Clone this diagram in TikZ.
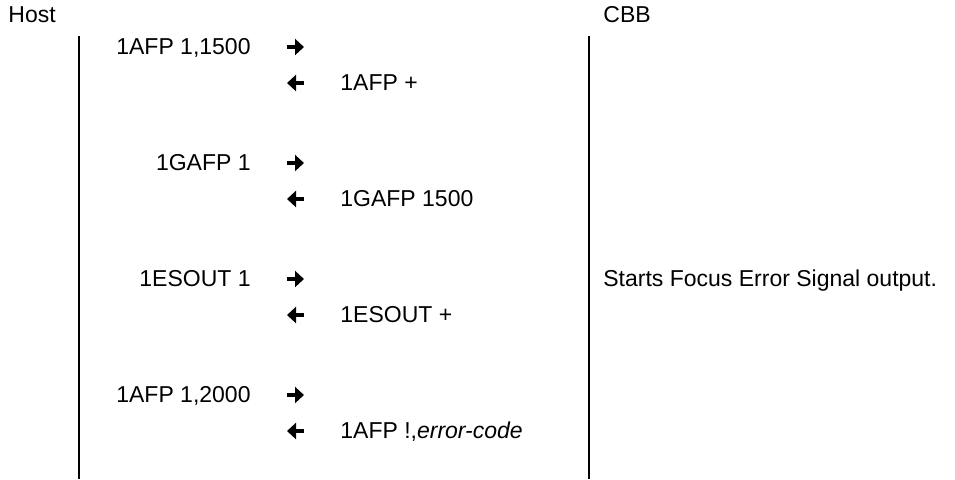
\documentclass[tikz,border=0pt]{standalone}
\usepackage{fontspec}
\setmainfont{Liberation Sans}
\usetikzlibrary{arrows.meta}
\tikzset{
  txt/.style={inner sep=0pt, font=\fontsize{11.5}{14}\selectfont},
  party/.style={txt, anchor=base west},
  cmd/.style={txt, anchor=base east},
  reply/.style={txt, anchor=base west},
  lifeline/.style={line width=1pt},
  % bold short arrows between the two columns
  send/.style={-{Triangle[length=4.5pt,width=8pt]}, line width=2.2pt},
  back/.style={{Triangle[length=4.5pt,width=8pt]}-, line width=2.2pt},
}

\begin{document}
\begin{tikzpicture}[x=0.5pt,y=-0.5pt]
\useasboundingbox (0,0) rectangle (955,479);

% ---------------------------------------------------------------- parties
\node[party] (host) at (8,22) {Host};
\node[party] (cbb) at (603,22) {CBB};
\coordinate (hosttop) at (79,36);
\coordinate (hostend) at (79,479);
\coordinate (cbbtop) at (589,36);
\coordinate (cbbend) at (589,479);
\draw[lifeline] (hosttop) -- (hostend);
\draw[lifeline] (cbbtop) -- (cbbend);

% ---------------------------------------------------------------- set 1500
\node[cmd] (afpset) at (251,54) {1AFP 1,1500};
\draw[send] (287,47) -- (304,47);
\draw[back] (287,83) -- (304,83);
\node[reply] (afpack) at (340,90) {1AFP +};

% ---------------------------------------------------------------- read back
\node[cmd] (gafp) at (251,170) {1GAFP 1};
\draw[send] (287,163) -- (304,163);
\draw[back] (287,199) -- (304,199);
\node[reply] (gafpval) at (340,206) {1GAFP 1500};

% ---------------------------------------------------------------- FES output
\node[cmd] (esout) at (251,286) {1ESOUT 1};
\draw[send] (287,279) -- (304,279);
\draw[back] (287,315) -- (304,315);
\node[reply] (esoutack) at (340,322) {1ESOUT +};
\node[reply] (esnote) at (603,286) {Starts Focus Error Signal output.};

% ---------------------------------------------------------------- rejected
\node[cmd] (afpbad) at (251,402) {1AFP 1,2000};
\draw[send] (287,395) -- (304,395);
\draw[back] (287,431) -- (304,431);
\node[reply] (afperr) at (340,438) {1AFP !,\textit{error-code}};

\end{tikzpicture}
\end{document}
